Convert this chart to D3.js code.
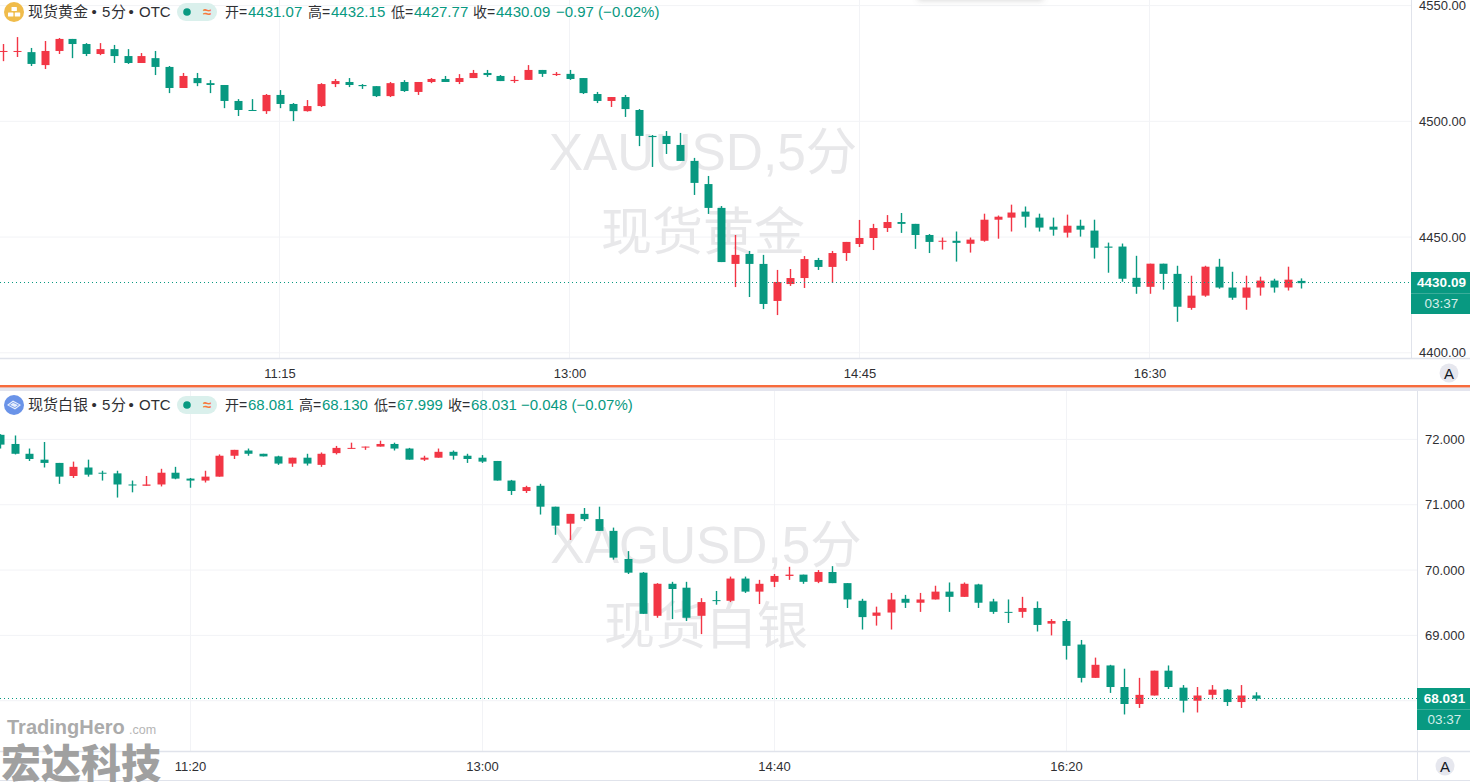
<!DOCTYPE html>
<html><head><meta charset="utf-8">
<style>
html,body{margin:0;padding:0;background:#fff;overflow:hidden}
svg{display:block}
text{font-family:"Liberation Sans","Noto Sans CJK SC",sans-serif}
.cjk{font-family:"Noto Sans CJK SC","Liberation Sans",sans-serif}
</style>
<script src="https://cdnjs.cloudflare.com/ajax/libs/d3/7.8.5/d3.min.js"></script>
</head><body><div id="c"></div>
<script>
const goldStartTime="09:35", silverStartTime="10:15";
const goldOpen=[4530.1,4530.1,4529.9,4524.3,4530.4,4535.6,4533.4,4529.1,4531.2,4528.2,4525.2,4527.3,4523.5,4514.4,4518.7,4516.5,4515.7,4508.8,4504.9,4504.4,4511.4,4507.5,4504.4,4506.6,4516.1,4517.0,4515.7,4515.2,4510.9,4517.0,4512.7,4517.0,4518.3,4517.0,4518.7,4520.9,4519.6,4517.4,4517.9,4522.2,4520.0,4520.5,4518.7,4511.8,4508.8,4510.5,4504.9,4493.7,4493.7,4489.8,4482.9,4472.9,4462.6,4438.4,4442.7,4438.4,4422.4,4429.7,4432.3,4440.1,4437.1,4443.1,4447.0,4449.6,4453.9,4456.5,4455.7,4450.9,4448.1,4448.4,4447.1,4448.4,4457.5,4458.4,4461.0,4458.4,4454.5,4451.9,4454.9,4452.8,4445.9,4445.9,4432.4,4428.5,4438.5,4434.1,4419.4,4424.7,4437.2,4428.2,4423.8,4428.2,4431.2,4428.2,4431.07];
const goldHigh=[4533.4,4536.4,4531.7,4534.7,4536.0,4535.6,4533.8,4533.8,4533.0,4531.2,4529.5,4530.4,4523.9,4520.9,4520.9,4517.8,4515.7,4509.6,4509.6,4511.8,4513.5,4507.9,4509.2,4516.5,4518.3,4518.7,4516.1,4515.2,4517.0,4517.8,4517.0,4518.7,4519.6,4520.4,4522.2,4522.2,4520.0,4519.6,4524.3,4522.2,4521.3,4522.2,4518.7,4512.7,4510.5,4511.4,4505.3,4494.1,4495.8,4495.0,4484.2,4476.4,4463.4,4450.9,4444.0,4442.3,4435.8,4436.2,4441.8,4441.0,4444.0,4447.9,4457.4,4455.7,4459.5,4460.4,4455.7,4451.3,4449.8,4452.4,4449.8,4460.1,4459.3,4464.0,4463.2,4460.1,4458.4,4459.7,4457.5,4457.5,4447.6,4447.2,4441.9,4438.5,4438.5,4437.6,4433.3,4437.6,4440.6,4435.0,4433.3,4432.9,4432.0,4437.2,4432.15];
const goldLow=[4526.0,4527.8,4523.9,4522.6,4529.1,4527.3,4528.2,4528.6,4525.2,4524.8,4525.2,4520.0,4512.2,4514.4,4515.2,4512.2,4505.7,4502.3,4504.6,4503.2,4505.7,4500.1,4504.2,4506.2,4514.8,4514.8,4514.0,4510.5,4510.5,4512.7,4511.4,4516.5,4517.0,4516.1,4518.7,4519.2,4517.4,4516.6,4517.9,4519.2,4519.6,4517.9,4511.8,4507.9,4506.2,4501.9,4489.3,4480.3,4485.9,4482.9,4468.2,4460.0,4439.2,4428.4,4424.1,4418.9,4416.3,4428.9,4428.0,4435.8,4430.2,4439.7,4445.7,4444.4,4452.2,4451.8,4444.9,4443.1,4444.6,4439.4,4443.3,4448.0,4449.3,4452.4,4454.1,4452.4,4450.6,4449.8,4450.2,4440.7,4434.6,4430.7,4425.5,4425.5,4427.3,4413.4,4418.6,4424.2,4427.7,4422.9,4418.6,4424.7,4426.0,4426.9,4427.77];
const goldClose=[4530.4,4530.4,4524.8,4530.4,4535.6,4533.4,4529.1,4531.2,4528.2,4525.2,4528.2,4523.5,4514.4,4519.6,4516.5,4515.7,4508.8,4504.9,4504.6,4511.4,4507.5,4504.4,4506.6,4516.1,4517.4,4515.7,4515.2,4510.9,4516.5,4513.1,4517.0,4518.3,4517.0,4518.7,4520.9,4520.0,4517.4,4517.9,4522.2,4520.5,4520.5,4518.3,4512.2,4508.8,4510.5,4505.3,4493.7,4493.2,4490.2,4482.9,4473.4,4462.6,4439.2,4442.3,4438.4,4421.1,4430.6,4432.3,4440.5,4437.1,4443.1,4447.9,4449.6,4453.9,4456.5,4455.7,4450.9,4447.9,4448.4,4447.5,4448.9,4457.5,4458.8,4460.6,4458.8,4454.1,4453.2,4454.9,4453.2,4445.4,4445.4,4432.0,4428.5,4438.5,4434.1,4419.9,4424.7,4437.2,4428.2,4423.8,4428.2,4431.2,4428.2,4431.6,4430.09];
const silverOpen=[72.07,71.93,71.78,71.69,71.64,71.44,71.57,71.49,71.48,71.31,71.29,71.31,71.49,71.40,71.37,71.43,71.75,71.83,71.78,71.74,71.63,71.72,71.61,71.79,71.86,71.88,71.89,71.93,71.86,71.69,71.72,71.81,71.75,71.72,71.67,71.37,71.21,71.29,70.97,70.71,70.86,70.78,70.60,70.17,69.96,69.30,69.79,69.73,69.30,69.54,69.53,69.87,69.67,69.82,69.91,69.93,69.82,69.97,69.80,69.53,69.30,69.35,69.56,69.50,69.55,69.67,69.59,69.78,69.52,69.36,69.36,69.42,69.18,69.22,68.86,68.35,68.54,68.21,67.95,68.08,68.46,68.20,68.00,68.09,68.17,67.98,68.081];
const silverHigh=[72.08,72.06,71.86,71.96,71.64,71.66,71.69,71.52,71.52,71.37,71.44,71.55,71.58,71.41,71.52,71.77,71.84,71.86,71.78,71.75,71.72,71.78,71.80,71.90,71.95,71.89,71.98,71.95,71.87,71.75,71.86,71.83,71.78,71.76,71.67,71.38,71.29,71.32,70.97,70.86,70.95,70.97,70.65,70.29,69.97,69.80,69.82,69.82,69.57,69.68,69.90,69.90,69.85,69.94,70.05,69.93,70.00,70.06,69.80,69.56,69.44,69.65,69.62,69.65,69.76,69.81,69.81,69.79,69.56,69.55,69.59,69.52,69.25,69.25,68.93,68.66,68.55,68.49,68.35,68.46,68.54,68.24,68.21,68.24,68.18,68.24,68.130];
const silverLow=[71.86,71.77,71.67,71.57,71.32,71.41,71.43,71.37,71.11,71.19,71.29,71.28,71.39,71.26,71.34,71.43,71.70,71.75,71.74,71.61,71.58,71.60,71.58,71.77,71.86,71.84,71.89,71.83,71.69,71.67,71.72,71.69,71.64,71.64,71.37,71.15,71.18,70.85,70.54,70.46,70.75,70.60,70.16,69.94,69.33,69.27,69.25,69.22,69.02,69.47,69.51,69.65,69.48,69.74,69.85,69.79,69.80,69.80,69.42,69.09,69.15,69.09,69.42,69.36,69.55,69.36,69.59,69.42,69.33,69.19,69.27,69.06,69.00,68.63,68.28,68.35,68.12,67.79,67.89,68.08,68.18,67.82,67.82,68.02,67.92,67.89,67.999];
const silverClose=[71.92,71.78,71.70,71.64,71.43,71.58,71.46,71.48,71.31,71.30,71.31,71.49,71.40,71.37,71.43,71.75,71.84,71.78,71.74,71.63,71.72,71.63,71.78,71.87,71.87,71.89,71.93,71.86,71.69,71.72,71.81,71.75,71.70,71.66,71.37,71.21,71.27,70.97,70.68,70.86,70.78,70.60,70.19,69.96,69.33,69.79,69.71,69.27,69.51,69.53,69.87,69.67,69.79,69.91,69.93,69.82,69.97,69.80,69.55,69.28,69.35,69.55,69.50,69.55,69.67,69.59,69.79,69.50,69.36,69.35,69.42,69.16,69.22,68.84,68.35,68.55,68.21,67.95,68.09,68.46,68.21,68.00,68.08,68.17,67.98,68.08,68.031];
const goldPriceTicks=[4550,4500,4450,4400];
const silverPriceTicks=[72,71,70,69,68];
const goldTimeTicks=["11:15","13:00","14:45","16:30"];
const silverTimeTicks=["11:20","13:00","14:40","16:20"];

const W=1470,H=782,UP="#F23645",DOWN="#089981",GRID="#f2f3f6",LINE="#e0e3eb",TXT="#2f2f33";
const svg=d3.select("#c").append("svg").attr("width",W).attr("height",H);
svg.append("rect").attr("width",W).attr("height",H).attr("fill","#fff");
const parse=d3.timeParse("%H:%M"), fmt=d3.timeFormat("%H:%M");
const defs=svg.append("defs");
defs.append("filter").attr("id","blur").attr("x","-20%").attr("y","-200%").attr("width","140%").attr("height","500%")
  .append("feGaussianBlur").attr("stdDeviation",3);

function pane(o){
  const g=svg.append("g");
  const times=o.open.map((_,i)=>d3.timeMinute.offset(parse(o.start),i*5));
  const tickTimes=o.timeTicks.map(parse);
  const x=d3.scaleTime().domain([tickTimes[0],tickTimes[3]]).range(o.xRange);
  const y=d3.scaleLinear().domain(o.priceDomain).range(o.yRange);
  const clipId="clip"+o.id;
  defs.append("clipPath").attr("id",clipId).append("rect").attr("x",0).attr("y",o.top).attr("width",o.axisX).attr("height",o.bottom-o.top);
  const grid=g.append("g");
  grid.selectAll("line.h").data(o.priceTicks).join("line").attr("class","h")
    .attr("x1",0).attr("x2",o.axisX).attr("y1",d=>y(d)).attr("y2",d=>y(d)).attr("stroke",GRID).attr("stroke-width",1);
  grid.selectAll("line.v").data(tickTimes).join("line").attr("class","v")
    .attr("y1",o.top).attr("y2",o.bottom).attr("x1",d=>Math.floor(x(d))+.5).attr("x2",d=>Math.floor(x(d))+.5).attr("stroke",GRID).attr("stroke-width",1);
  const wm=g.append("g").attr("fill","#e8e8ea").attr("text-anchor","middle");
  wm.append("text").attr("x",o.wmX).attr("y",o.wmY1).attr("font-size",51.4).text(o.wm1);
  wm.append("text").attr("class","cjk").attr("x",o.wmX).attr("y",o.wmY2).attr("font-size",51).text(o.wm2);
  const c=g.append("g").attr("clip-path",`url(#${clipId})`);
  const bars=c.selectAll("g").data(times).join("g").attr("fill",(d,i)=>o.close[i]>=o.open[i]?UP:DOWN);
  bars.append("rect").attr("x",d=>Math.round(x(d))-.2).attr("width",1.4)
    .attr("y",(d,i)=>y(o.high[i])).attr("height",(d,i)=>Math.max(1,y(o.low[i])-y(o.high[i])));
  bars.append("rect").attr("x",d=>Math.round(x(d))-3.5).attr("width",8)
    .attr("y",(d,i)=>y(Math.max(o.open[i],o.close[i]))).attr("height",(d,i)=>Math.max(1,Math.abs(y(o.open[i])-y(o.close[i]))));
  const last=o.close[o.close.length-1];
  g.append("line").attr("x1",0).attr("x2",o.axisX).attr("y1",Math.round(y(last))-.5).attr("y2",Math.round(y(last))-.5)
    .attr("stroke",DOWN).attr("stroke-width",1).attr("stroke-dasharray","1 3");
  const ya=g.append("g").attr("transform",`translate(${o.axisX},0)`)
    .call(d3.axisRight(y).tickValues(o.priceTicks).tickSize(0).tickPadding(o.tickPad).tickFormat(o.fmt));
  ya.select(".domain").remove();
  ya.selectAll("text").attr("font-size",13).attr("fill",TXT).attr("font-family","'Liberation Sans',sans-serif");
  const xa=g.append("g").attr("transform",`translate(0,${o.bottom})`)
    .call(d3.axisBottom(x).tickValues(tickTimes).tickSize(0).tickPadding(o.xPad).tickFormat(fmt));
  xa.select(".domain").remove();
  xa.selectAll("text").attr("font-size",13).attr("fill",TXT).attr("font-family","'Liberation Sans',sans-serif");
  g.append("line").attr("x1",o.axisX+.5).attr("x2",o.axisX+.5).attr("y1",o.top).attr("y2",o.axisEnd).attr("stroke",LINE);
  g.append("line").attr("x1",0).attr("x2",W).attr("y1",o.bottom+.5).attr("y2",o.bottom+.5).attr("stroke",LINE).attr("stroke-width",1.4);
  const lab=g.append("g");
  lab.append("rect").attr("x",o.axisX).attr("y",o.labTop).attr("width",W-o.axisX).attr("height",42).attr("fill",DOWN);
  lab.append("line").attr("x1",o.axisX).attr("x2",W).attr("y1",o.labTop+21.5).attr("y2",o.labTop+21.5).attr("stroke","#3aad9a");
  lab.append("text").attr("x",(W+o.axisX)/2+1).attr("y",o.labTop+15).attr("text-anchor","middle").attr("font-size",13.5).attr("font-weight",700).attr("fill","#fff").text(o.fmt(last));
  lab.append("text").attr("x",(W+o.axisX)/2+1).attr("y",o.labTop+36).attr("text-anchor","middle").attr("font-size",13.5).attr("fill","#d5eeea").text("03:37");
  g.append("circle").attr("cx",o.aX).attr("cy",o.aY).attr("r",9.5).attr("fill","#e6e7ee");
  g.append("text").attr("x",o.aX).attr("y",o.aY+5.5).attr("text-anchor","middle").attr("font-size",15).attr("fill","#131722").text("A");
  const ly=o.legY;
  g.append("text").attr("class","cjk").attr("x",28).attr("y",ly).attr("font-size",15).attr("fill",TXT).text(o.title);
  [[91.5,"•"],[102,"5"],[111,"分"],[128.5,"•"],[139,"OTC"]].forEach(d=>{
    g.append("text").attr("class",d[1]==="分"?"cjk":null).attr("x",d[0]).attr("y",ly).attr("font-size",15).attr("fill",TXT).text(d[1]);
  });
  g.append("rect").attr("x",177).attr("y",ly-14).attr("width",40).attr("height",18).attr("rx",9).attr("fill","#daf0ec");
  g.append("circle").attr("cx",187).attr("cy",ly-5).attr("r",3.8).attr("fill",DOWN);
  g.append("text").attr("x",207).attr("y",ly).attr("text-anchor","middle").attr("font-size",15).attr("font-weight",700).attr("fill","#f7793f").text("≈");
  o.legend.forEach(d=>{
    g.append("text").attr("class","cjk").attr("x",d[0]).attr("y",ly).attr("font-size",14).attr("fill",TXT).text(d[1]);
    g.append("text").attr("x",d[0]+14).attr("y",ly).attr("font-size",14).attr("fill",TXT).text("=");
    g.append("text").attr("x",d[0]+23).attr("y",ly).attr("font-size",15).attr("fill",DOWN).text(d[2]);
  });
  g.append("text").attr("x",o.chgX).attr("y",ly).attr("font-size",15).attr("fill",DOWN).text(o.chg);
}

pane({id:"a",start:goldStartTime,open:goldOpen,high:goldHigh,low:goldLow,close:goldClose,
  timeTicks:goldTimeTicks,priceTicks:goldPriceTicks,xRange:[279.5,1149.5],priceDomain:[4550,4400],yRange:[5.6,352.8],
  top:0,bottom:358,axisX:1411,axisEnd:358,tickPad:8,xPad:11,fmt:d3.format(".2f"),labTop:272,aX:1449,aY:373,
  wmX:703,wmY1:170,wmY2:250,wm1:"XAUUSD,5分",wm2:"现货黄金",legY:17,
  title:"现货黄金",
  legend:[[225,"开","4431.07"],[308,"高","4432.15"],[391,"低","4427.77"],[473,"收","4430.09"]],chgX:556,chg:"−0.97 (−0.02%)"});

pane({id:"b",start:silverStartTime,open:silverOpen,high:silverHigh,low:silverLow,close:silverClose,
  timeTicks:silverTimeTicks,priceTicks:silverPriceTicks,xRange:[190,1066],priceDomain:[72,69],yRange:[439.4,635.4],
  top:391,bottom:751,axisX:1417,axisEnd:780,tickPad:8,xPad:11,fmt:d3.format(".3f"),labTop:688,aX:1445,aY:766,
  wmX:706,wmY1:563,wmY2:644,wm1:"XAGUSD,5分",wm2:"现货白银",legY:410,
  title:"现货白银",
  legend:[[225,"开","68.081"],[299,"高","68.130"],[374,"低","67.999"],[448,"收","68.031"]],chgX:521,chg:"−0.048 (−0.07%)"});

svg.append("rect").attr("x",0).attr("y",387).attr("width",W).attr("height",4).attr("fill","#e4e5ee");
svg.append("rect").attr("x",0).attr("y",385).attr("width",W).attr("height",2.4).attr("fill","#f76b3c");
svg.append("line").attr("x1",0).attr("x2",W).attr("y1",780.5).attr("y2",780.5).attr("stroke",LINE);
svg.append("rect").attr("x",918).attr("y",-8).attr("width",125).attr("height",8).attr("fill","#999").attr("opacity",.45).attr("filter","url(#blur)");

const g1=svg.append("g").attr("transform","translate(14,12)");
g1.append("circle").attr("r",10).attr("fill","#f0bc4b");
[[-2.5,-5],[-6,0.5],[0.8,0.5]].forEach(p=>g1.append("rect").attr("x",p[0]).attr("y",p[1]).attr("width",5.4).attr("height",4).attr("rx",.5).attr("fill","#fff"));
const g2=svg.append("g").attr("transform","translate(14,405)");
g2.append("circle").attr("r",10).attr("fill","#6a93e8");
g2.append("path").attr("d","M-7,0L-1,-4.5L7,0L1,4.5Z").attr("fill","#e6eefc");
g2.append("path").attr("d","M-4.5,0L-1,-2.6L4.5,0L1,2.6Z").attr("fill","none").attr("stroke","#6a93e8").attr("stroke-width",.8);

svg.append("text").attr("x",7).attr("y",734).attr("font-size",20).attr("font-weight",700).attr("fill","#ababab").attr("font-family","'Open Sans',sans-serif").text("TradingHero");
svg.append("text").attr("x",129).attr("y",734).attr("font-size",12.5).attr("fill","#b5b5b5").attr("font-family","'Open Sans',sans-serif").text(".com");
svg.append("text").attr("class","cjk").attr("x",1).attr("y",778).attr("font-size",40).attr("font-weight",900).attr("fill","#a0a0a0").text("宏达科技");
</script></body></html>
